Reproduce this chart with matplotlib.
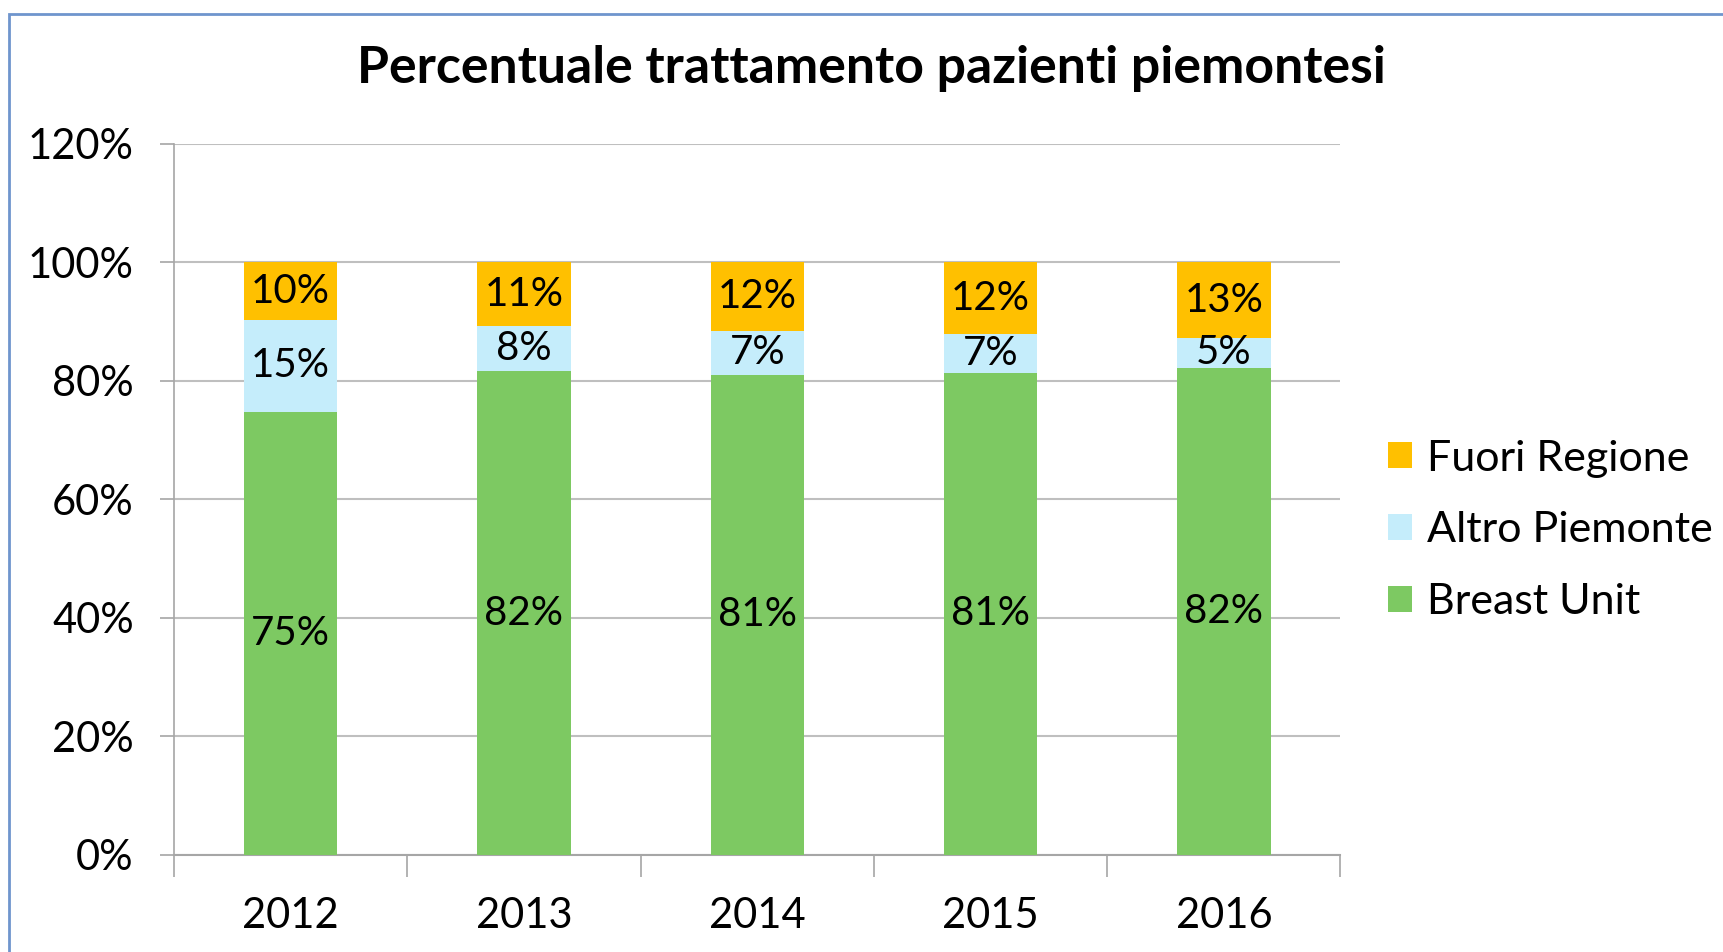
import matplotlib
matplotlib.use("Agg")
import matplotlib.pyplot as plt
from matplotlib.patches import Rectangle
import numpy as np

plt.rcParams['font.family'] = ['Lato', 'DejaVu Sans']

years = ["2012", "2013", "2014", "2015", "2016"]
breast_unit = [74.8, 81.6, 81.0, 81.3, 82.2]
altro_piemonte = [15.4, 7.6, 7.4, 6.6, 5.0]
fuori_regione = [9.8, 10.8, 11.6, 12.1, 12.8]
yticks = [0, 20, 40, 60, 80, 100, 120]

c_green = "#7DC962"
c_blue = "#C5EDFB"
c_orange = "#FFC000"

fig = plt.figure(figsize=(17.23, 9.52), dpi=100)
ax = fig.add_axes([0.101, 0.102, 0.677, 0.747])

x = np.arange(len(years))
w = 0.4
bu = np.array(breast_unit)
ap = np.array(altro_piemonte)
fr = np.array(fuori_regione)
b1 = ax.bar(x, bu, w, color=c_green, label="Breast Unit", zorder=3)
b2 = ax.bar(x, ap, w, bottom=bu, color=c_blue, label="Altro Piemonte", zorder=3)
b3 = ax.bar(x, fr, w, bottom=bu + ap, color=c_orange, label="Fuori Regione", zorder=3)

for vals, bottoms in [(bu, np.zeros(len(bu))), (ap, bu), (fr, bu + ap)]:
    for xi, v, b in zip(x, vals, bottoms):
        ax.text(xi, b + v / 2, f"{int(round(v))}%", ha="center", va="center",
                fontsize=29, color="black", zorder=4)

ax.set_xlim(-0.5, len(years) - 0.5)
ax.set_ylim(0, 120)
ax.set_yticks(yticks)
ax.set_yticklabels([f"{t}%" for t in yticks], fontsize=30)
ax.yaxis.grid(True, color="#BFBFBF", linewidth=1.5, zorder=0)
ax.set_axisbelow(True)

ax.set_xticks(x)
ax.set_xticklabels(years, fontsize=30)
ax.tick_params(axis="x", length=0, pad=30)
ax.set_xticks(np.arange(-0.5, len(years), 1.0), minor=True)
ax.tick_params(axis="x", which="minor", length=16, width=1.2, color="#A6A6A6")
ax.tick_params(axis="y", length=10, width=1.2, color="#A6A6A6", pad=19)

for s in ["top", "right"]:
    ax.spines[s].set_visible(False)
ax.spines["left"].set_color("#A6A6A6")
ax.spines["bottom"].set_color("#A6A6A6")
ax.spines["left"].set_linewidth(1.2)
ax.spines["bottom"].set_linewidth(1.5)

fig.text(0.506, 0.928, "Percentuale trattamento pazienti piemontesi",
         ha="center", va="center", fontsize=37.3, fontweight="bold")

handles = [b3, b2, b1]
leg = fig.legend(handles, [h.get_label() for h in handles],
                 loc="center left", bbox_to_anchor=(0.8056, 0.443),
                 frameon=False, fontsize=31, handlelength=0.55, handleheight=0.55,
                 handletextpad=0.35, labelspacing=0.78, borderpad=0,
                 borderaxespad=0)

fig.patches.append(Rectangle((9 / 1723, -0.1), 1.2, 1 - 14 / 952 + 0.1,
                             transform=fig.transFigure, fill=False,
                             edgecolor="#6F95CD", linewidth=2))

fig.savefig("out.png", dpi=100)
